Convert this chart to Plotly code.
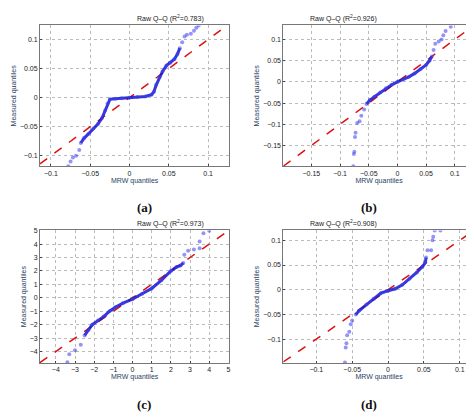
import plotly.graph_objects as go

ax_x = [-0.078,-0.075,-0.072,-0.068,-0.064,-0.062,-0.058,-0.052,-0.046,-0.04,-0.035,-0.031,-0.028,-0.025,-0.018,-0.01,0,0.01,0.02,0.028,0.031,0.034,0.038,0.042,0.047,0.052,0.057,0.061,0.064,0.067,0.07,0.073,0.078,0.082,0.085,0.088]
ax_y = [-0.118,-0.11,-0.103,-0.1,-0.09,-0.078,-0.07,-0.062,-0.053,-0.045,-0.035,-0.022,-0.01,-0.003,-0.002,-0.001,0,0.001,0.002,0.005,0.01,0.022,0.035,0.045,0.055,0.06,0.066,0.075,0.085,0.095,0.105,0.108,0.11,0.115,0.12,0.124]
bx_x = [-0.077,-0.076,-0.075,-0.074,-0.073,-0.07,-0.066,-0.063,-0.058,-0.054,-0.048,-0.04,-0.03,-0.02,-0.01,0,0.01,0.02,0.03,0.04,0.05,0.056,0.06,0.063,0.066,0.072,0.077,0.08,0.084,0.093]
bx_y = [-0.199,-0.17,-0.165,-0.13,-0.12,-0.097,-0.093,-0.08,-0.065,-0.052,-0.043,-0.035,-0.025,-0.015,-0.007,0,0.006,0.012,0.02,0.03,0.04,0.05,0.06,0.075,0.09,0.095,0.1,0.11,0.12,0.13]
cx_x = [-3.4,-3.3,-3.0,-2.7,-2.5,-2.3,-2.1,-1.8,-1.5,-1.2,-0.9,-0.5,0,0.5,1.0,1.5,2.0,2.3,2.5,2.65,2.7,2.9,3.2,3.5,3.5,3.7,4.0]
cx_y = [-4.8,-4.2,-3.9,-3.5,-2.8,-2.4,-2.0,-1.7,-1.4,-1.0,-0.7,-0.4,-0.1,0.3,0.7,1.3,2.0,2.3,2.4,2.6,3.2,3.5,3.6,3.7,4.2,4.8,5.0]
dx_x = [-0.06,-0.059,-0.058,-0.057,-0.054,-0.052,-0.05,-0.045,-0.04,-0.03,-0.02,-0.01,0,0.01,0.02,0.03,0.04,0.048,0.052,0.053,0.055,0.06,0.062,0.063,0.065,0.073]
dx_y = [-0.147,-0.117,-0.108,-0.092,-0.085,-0.07,-0.062,-0.05,-0.042,-0.03,-0.018,-0.007,-0.002,0.002,0.01,0.022,0.035,0.047,0.055,0.065,0.08,0.08,0.1,0.107,0.12,0.12]
# index range of the dense core of each sample (drawn as a thick run of points)
core = [(5, 28), (9, 22), (4, 19), (7, 19)]

titles = ["Raw Q–Q (R<sup>2</sup>=0.783)", "Raw Q–Q (R<sup>2</sup>=0.926)", "Raw Q–Q (R<sup>2</sup>=0.973)", "Raw Q–Q (R<sup>2</sup>=0.908)"]
panel_labels = ["(a)", "(b)", "(c)", "(d)"]
ranges = [(-0.114, 0.127, -0.118, 0.124), (-0.199, 0.135, -0.199, 0.133), (-4.83, 5.05, -4.85, 5.02), (-0.146, 0.121, -0.148, 0.12)]
ticks = [[-0.1,-0.05,0,0.05,0.1], [-0.15,-0.1,-0.05,0,0.05,0.1], [-4,-3,-2,-1,0,1,2,3,4,5], [-0.1,-0.05,0,0.05,0.1]]
data = [(ax_x, ax_y), (bx_x, bx_y), (cx_x, cx_y), (dx_x, dx_y)]

xd = [(0.0675, 0.468), (0.582, 0.987)]
yd = [(0.625, 0.965), (0.15, 0.47)]

fig = go.Figure()
ann = []
for i in range(4):
    r, c = divmod(i, 2)
    n = "" if i == 0 else str(i + 1)
    x0, x1, y0, y1 = ranges[i]
    xs, ys = data[i]
    a, b = core[i]
    fig.add_trace(go.Scatter(x=[x0, x1], y=[x0, x1], mode="lines", xaxis="x"+n, yaxis="y"+n,
                             line=dict(color="#dd1111", width=1.5, dash="dash"), showlegend=False))
    fig.add_trace(go.Scatter(x=xs[a:b+1], y=ys[a:b+1], mode="lines", xaxis="x"+n, yaxis="y"+n,
                             line=dict(color="rgba(20,20,210,0.85)", width=3), showlegend=False))
    fig.add_trace(go.Scatter(x=xs, y=ys, mode="markers", xaxis="x"+n, yaxis="y"+n,
                             marker=dict(color="rgba(60,60,240,0.55)", size=4), showlegend=False))
    common = dict(showgrid=True, gridcolor="#bbbbbb", griddash="dot", gridwidth=0.6, zeroline=False,
                  showline=True, mirror=True, linecolor="#777777", linewidth=0.8, ticks="inside", ticklen=2,
                  tickfont=dict(size=7, family="Liberation Sans", color="#222"))
    fig.update_layout(**{
        "xaxis"+n: dict(domain=xd[c], range=[x0, x1], tickvals=ticks[i], anchor="y"+n,
                        title=dict(text="MRW quantiles", font=dict(size=7, family="Liberation Sans"), standoff=0), **common),
        "yaxis"+n: dict(domain=yd[r], range=[y0, y1], tickvals=ticks[i], anchor="x"+n,
                        title=dict(text="Measured quantiles", font=dict(size=7, family="Liberation Sans"), standoff=2), **common),
    })
    xm = (xd[c][0] + xd[c][1]) / 2
    ann.append(dict(text=titles[i], x=xm, y=yd[r][1], xref="paper", yref="paper", yanchor="bottom",
                    showarrow=False, font=dict(size=7, family="Liberation Sans", color="#222")))
    ann.append(dict(text="<b>" + panel_labels[i] + "</b>", x=xm, y=yd[r][0] - 0.1, xref="paper", yref="paper",
                    yanchor="middle", showarrow=False, font=dict(size=13, family="Liberation Serif", color="#111")))

fig.update_layout(width=474, height=417, margin=dict(l=0, r=0, t=0, b=0),
                  paper_bgcolor="white", plot_bgcolor="white", annotations=ann)
fig.write_html("out.html")
